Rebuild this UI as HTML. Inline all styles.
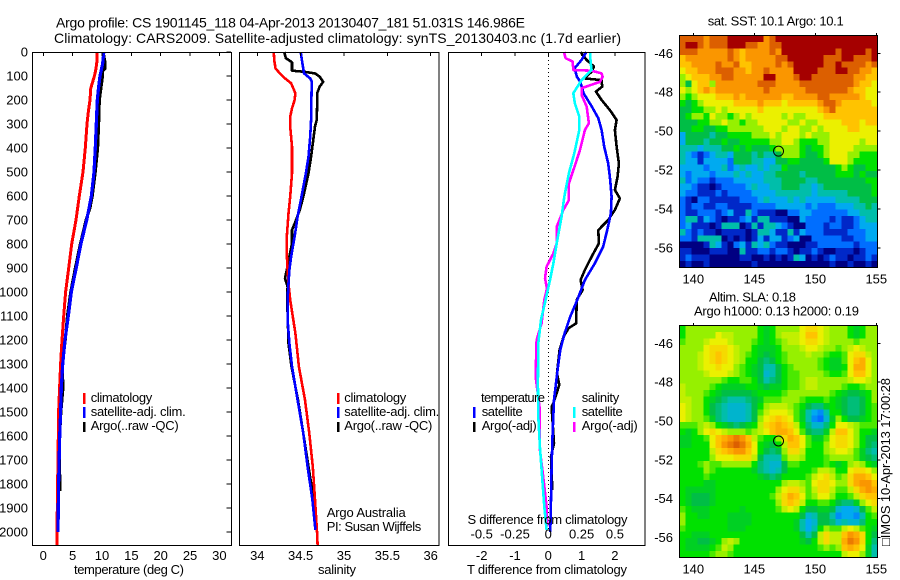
<!DOCTYPE html>
<html lang="en">
<head>
<meta charset="utf-8">
<title>Argo profile chart</title>
<style>
html,body{margin:0;padding:0;background:#fff;}
svg{display:block;}
text{font-family:"Liberation Sans",sans-serif;font-size:13px;fill:#000;}
.title{font-size:14px;}
</style>
</head>
<body>
<svg id="chart" xmlns="http://www.w3.org/2000/svg" width="900" height="580" viewBox="0 0 900 580">
  <rect x="0" y="0" width="900" height="580" fill="#fff"/>
  <g id="plots"></g>

  <text class="title" x="56" y="27.5" textLength="469">Argo profile: CS 1901145_118 04-Apr-2013 20130407_181 51.031S 146.986E</text>
  <text class="title" x="54" y="43" textLength="567">Climatology: CARS2009. Satellite-adjusted climatology: synTS_20130403.nc (1.7d earlier)</text>

  <text x="74" y="574" textLength="110">temperature (deg C)</text>
  <text x="318" y="574" textLength="38">salinity</text>
  <text x="467" y="574" textLength="160">T difference from climatology</text>
  <text x="467.5" y="524" textLength="160">S difference from climatology</text>

  <g>
    <rect x="83" y="393" width="2.5" height="11" fill="#ff0000"/>
    <rect x="83" y="407" width="2.5" height="11" fill="#0000ff"/>
    <rect x="83" y="422" width="2.5" height="10" fill="#000"/>
    <text x="90.7" y="402" textLength="61.5">climatology</text>
    <text x="90.7" y="416" textLength="95">satellite-adj. clim.</text>
    <text x="90.7" y="430" textLength="88">Argo(..raw -QC)</text>
  </g>
  <g>
    <rect x="337" y="393" width="2.5" height="11" fill="#ff0000"/>
    <rect x="337" y="407" width="2.5" height="11" fill="#0000ff"/>
    <rect x="337" y="422" width="2.5" height="10" fill="#000"/>
    <text x="344.3" y="402" textLength="62">climatology</text>
    <text x="344.3" y="416" textLength="95">satellite-adj. clim.</text>
    <text x="344.3" y="430" textLength="88">Argo(..raw -QC)</text>
    <text x="326.7" y="517" textLength="79">Argo Australia</text>
    <text x="326.7" y="531" textLength="94.5">PI: Susan Wijffels</text>
  </g>
  <g>
    <text x="481" y="402" textLength="64">temperature</text>
    <rect x="473" y="407" width="2.5" height="11" fill="#0000ff"/>
    <text x="481.7" y="416" textLength="41">satellite</text>
    <rect x="473" y="422" width="2.5" height="10" fill="#000"/>
    <text x="481.7" y="430" textLength="55">Argo(-adj)</text>
    <text x="581.7" y="402" textLength="37.5">salinity</text>
    <rect x="573" y="407" width="2.5" height="11" fill="#00ffff"/>
    <text x="581.7" y="416" textLength="41">satellite</text>
    <rect x="573" y="422" width="2.5" height="10" fill="#ff00ff"/>
    <text x="581.7" y="430" textLength="56">Argo(-adj)</text>
  </g>

  <text x="707.7" y="25.7" textLength="136">sat. SST: 10.1 Argo: 10.1</text>
  <text x="709" y="301.7" textLength="87">Altim. SLA: 0.18</text>
  <text x="694" y="315.7" textLength="165">Argo h1000: 0.13 h2000: 0.19</text>
  <text transform="translate(890,546) rotate(-90)" x="0" y="0" textLength="168">□IMOS 10-Apr-2013 17:00:28</text>
</svg>

<script>
// Shared depth ticks (dbar)
const depthTicks = [0,100,200,300,400,500,600,700,800,900,1000,1100,1200,1300,1400,1500,1600,1700,1800,1900,2000];

// Temperature panel
const tempTicks = [0,5,10,15,20,25,30];
const tempClimDepth = [0,50,80,100,130,150,200,250,300,400,500,600,700,800,900,1000,1100,1200,1300,1400,1500,1700,1800,2000,2054];
const tempClim = [9.2,9.1,8.9,8.7,8.35,8.1,7.95,7.67,7.44,7.16,6.76,6.14,5.57,4.83,4.32,3.8,3.47,3.18,2.95,2.78,2.6,2.5,2.44,2.33,2.33];
const tempSatDepth = [0,50,100,150,200,300,400,500,600,700,800,900,1000,1100,1200,1300,1400,1500,1600,1800,2000];
const tempSat = [10.3,10.1,9.66,9.4,9.2,9.03,8.86,8.64,8.2,7.4,6.4,5.6,4.77,4.26,3.7,3.3,3.07,2.95,2.8,2.6,2.5];
const tempArgoDepth = [0,40,70,80,100,150,200,300,400,500,600,650,700,750,800,900,1000,1100,1200,1300,1400,1500,1600,1700,1800,1830];
const tempArgo = [10.2,10.5,10.5,10.1,10.1,9.83,9.55,9.43,9.26,8.86,8.35,7.95,7.27,6.8,6.3,5.45,4.66,4.1,3.75,3.24,3.35,3,2.8,2.75,2.84,2.84];

// Salinity panel
const salTicks = [34,34.5,35,35.5,36];
const salClimDepth = [0,33,68,89,110,130,172,200,235,270,311,394,505,603,672,770,839,880,964,1033,1172,1311,1450,1589,1728,1866,2005,2054];
const salClim = [34.19,34.195,34.21,34.26,34.32,34.39,34.44,34.43,34.4,34.38,34.38,34.4,34.4,34.38,34.36,34.34,34.34,34.345,34.36,34.38,34.44,34.48,34.55,34.6,34.64,34.665,34.69,34.695];
const salSatDepth = [0,47,89,110,124,172,283,353,436,505,603,686,770,853,908,964,1033,1116,1214,1311,1450,1589,1728,1866,1991];
const salSat = [34.5,34.52,34.54,34.61,34.63,34.625,34.62,34.61,34.59,34.56,34.51,34.465,34.43,34.39,34.37,34.36,34.35,34.35,34.37,34.4,34.465,34.53,34.58,34.635,34.67];
const salArgoDepth = [0,26,43,78,82,89,103,124,144,172,228,283,311,381,436,505,603,658,707,742,797,853,908,943,978,1033,1214,1311,1450,1589,1728,1866,1950];
const salArgo = [34.31,34.33,34.4,34.4,34.53,34.665,34.72,34.76,34.72,34.69,34.69,34.685,34.665,34.64,34.62,34.59,34.53,34.49,34.44,34.4,34.4,34.37,34.34,34.32,34.35,34.345,34.36,34.395,34.47,34.53,34.59,34.65,34.675];

// Difference panel
const tDiffTicks = [-2,-1,0,1,2];
const sDiffTicks = [-0.5,-0.25,0,0.25,0.5];
const sDiffTickLabels = ['-0.5','-0.25','0','0.25','0.5'];
const tDiffSatDepth = [0,33,68,103,124,172,228,276,325,394,464,533,603,672,742,811,880,950,1033,1102,1172,1241,1311,1380,1450,1589,1728,1866,2000];
const tDiffSat = [1.14,1,0.79,0.86,0.96,1.06,1.31,1.5,1.6,1.68,1.8,1.86,1.9,1.88,1.77,1.65,1.4,1.1,0.87,0.66,0.49,0.36,0.29,0.23,0.17,0.13,0.1,0.08,0.06];
const tDiffArgoDepth = [0,33,61,82,110,117,144,165,200,242,283,325,394,464,519,575,610,658,700,742,797,853,908,950,992,1033,1130,1151,1186,1241,1338,1387,1464,1478,1630,1686,1825];
const tDiffArgo = [0.97,1.15,1.37,1.3,1.08,1.6,1.62,1.43,1.6,1.85,2.05,2,2.05,2.12,2.08,2,2.15,2,1.8,1.5,1.52,1.3,1.1,0.97,1.03,0.85,0.84,0.61,0.46,0.34,0.26,0.33,0.15,0.1,0.17,0.08,0.12];
const sDiffSatDepth = [0,47,75,117,172,214,269,325,422,505,603,686,797,880,950,1033,1116,1214,1380,1519,1644,1797,1894,1991];
const sDiffSat = [0.313,0.318,0.325,0.25,0.188,0.2,0.233,0.233,0.195,0.155,0.12,0.1,0.063,0.038,0.013,-0.02,-0.055,-0.075,-0.078,-0.075,-0.063,-0.043,-0.03,-0.013];
const sDiffArgoDepth = [0,26,40,75,78,89,103,124,151,179,228,297,325,408,464,547,617,658,728,797,839,894,943,985,1033,1130,1200,1352,1491,1658,1769,1894,1977];
const sDiffArgo = [0.118,0.13,0.183,0.188,0.325,0.4,0.408,0.388,0.25,0.25,0.288,0.305,0.275,0.238,0.205,0.155,0.155,0.113,0.063,0.063,0.038,-0.013,-0.025,-0.01,-0.03,-0.05,-0.088,-0.095,-0.063,-0.063,-0.038,-0.013,-0.008];

// Map axes
const lonTicks = [140,145,150,155];
const latTicksTop = [-46,-48,-50,-52,-54,-56];
const argoLon = 146.986;
const argoLat = -51.031;

// Colour levels of the SST map, read row by row (north to south)
const sstRows = [
[11,11,11,11,10,11,11,11,12,12,12,12,12,12,10,11,12,12,12,12,12,12,12,12,12,12,12,12,12,12,12,12,12],
[11,12,12,11,10,11,11,11,12,12,12,11,11,10,10,11,11,12,12,12,12,12,12,12,12,12,12,12,12,12,12,12,12],
[11,11,11,10,10,10,10,10,11,10,9,10,10,10,10,11,10,12,12,12,12,12,12,12,12,12,11,12,12,12,12,11,12],
[9,10,10,10,10,10,10,10,11,10,9,10,10,10,10,10,11,11,12,12,12,12,12,12,11,11,11,12,12,11,11,11,12],
[9,9,10,10,10,10,11,10,10,11,9,9,10,10,10,10,11,10,11,12,12,12,12,12,11,11,12,11,11,11,11,10,11],
[8,9,9,10,10,10,11,11,11,10,10,9,10,10,11,10,10,10,10,12,12,12,12,11,11,11,12,12,11,11,10,10,9],
[7,8,9,9,9,10,10,11,11,10,10,10,10,10,12,12,10,10,10,11,12,12,11,11,11,11,11,11,11,10,10,9,9],
[7,5,8,9,9,7,10,10,10,10,10,10,10,11,11,11,10,10,10,10,11,11,11,11,11,11,11,11,11,10,9,9,8],
[8,7,8,9,10,9,10,10,10,10,10,10,10,10,11,10,10,10,10,10,10,11,11,11,11,11,11,11,10,9,9,8,8],
[7,6,7,8,8,8,9,9,9,10,9,10,10,10,10,10,10,9,9,10,10,10,10,11,11,10,10,10,10,10,9,8,8],
[6,5,6,7,8,8,8,8,8,9,9,9,9,10,9,9,9,8,9,9,9,9,9,10,11,11,10,9,9,9,9,9,8],
[5,5,6,6,7,7,8,7,8,8,8,8,8,9,8,8,8,8,8,8,8,8,8,9,10,11,9,9,9,9,9,9,9],
[5,6,7,7,6,8,7,7,6,7,8,7,8,8,8,8,8,7,8,7,7,8,8,8,9,9,9,9,9,9,9,9,9],
[5,5,5,6,6,7,7,8,7,7,6,7,7,8,8,8,8,8,7,7,8,7,7,8,8,8,8,9,9,9,8,9,9],
[5,5,6,6,5,5,6,6,7,7,7,7,7,7,8,8,8,7,8,8,7,7,8,7,8,8,8,8,9,9,8,8,8],
[3,5,5,5,5,4,5,5,6,6,6,6,7,7,7,8,7,8,8,8,7,8,7,7,7,8,8,8,8,8,8,8,8],
[3,5,5,5,4,5,5,6,5,5,6,6,6,6,6,7,7,8,8,7,6,6,6,7,7,8,8,8,8,8,7,8,8],
[4,4,4,3,4,4,4,5,5,6,5,6,5,5,5,6,7,7,7,7,6,5,6,6,7,8,8,8,8,7,7,7,7],
[4,3,2,1,2,3,4,4,3,5,5,5,4,5,4,4,5,7,7,7,6,5,5,6,7,8,8,8,7,7,6,6,6],
[4,3,3,1,3,3,3,3,2,5,5,5,4,4,3,3,5,5,6,6,5,5,5,5,6,8,8,8,7,6,6,6,6],
[3,3,3,3,2,3,3,4,2,3,4,3,3,4,3,4,4,6,5,5,5,5,5,5,5,5,6,7,6,5,5,6,6],
[3,2,3,3,3,2,3,3,3,4,3,4,3,3,4,4,5,5,5,5,4,5,5,5,5,5,6,6,6,5,6,5,5],
[4,2,3,2,2,1,2,2,2,3,3,3,3,3,4,4,4,5,5,5,5,4,4,5,5,5,5,5,5,5,5,6,6],
[3,3,2,1,1,0,1,2,2,2,2,3,4,3,3,4,4,5,5,5,4,4,3,4,5,5,5,5,5,5,5,5,6],
[3,2,2,1,1,1,2,1,2,2,2,2,3,3,3,3,4,4,4,4,4,4,3,4,4,4,4,4,5,5,5,5,6],
[2,1,0,2,2,1,1,1,1,1,2,2,2,3,4,3,3,3,4,3,4,3,3,3,3,3,4,4,4,4,5,5,5],
[2,1,2,2,1,1,2,2,1,1,1,1,2,2,2,2,3,3,3,3,3,2,3,2,2,2,3,3,3,4,4,5,4],
[2,1,1,2,2,2,1,2,3,1,1,4,2,1,1,1,0,0,2,2,3,3,2,2,2,2,2,2,3,3,4,4,4],
[2,4,4,1,3,2,1,0,1,1,2,3,1,4,4,1,1,1,0,0,3,2,2,2,2,1,2,1,1,2,3,4,4],
[2,3,1,1,1,0,1,4,4,4,0,1,4,1,4,4,3,2,1,0,0,2,2,2,1,2,2,1,1,2,3,3,3],
[4,2,1,2,1,1,0,1,1,1,1,0,1,4,4,3,1,1,4,1,3,2,2,2,1,1,1,1,2,2,2,3,3],
[2,2,1,4,4,4,4,0,1,0,1,0,1,3,1,3,3,1,2,3,0,0,2,2,2,2,2,1,1,2,2,3,3],
[0,0,0,0,1,4,3,1,0,2,3,1,4,3,4,2,1,1,0,0,0,1,1,2,2,2,2,2,2,1,2,2,2],
[1,1,0,0,0,1,1,1,0,0,4,1,1,2,2,1,2,2,1,0,1,1,2,1,0,0,1,1,1,0,1,2,2],
[1,2,1,1,1,0,0,0,0,0,1,1,0,0,1,0,1,0,1,4,3,0,1,0,1,2,1,1,0,1,1,2,1],
[0,1,0,0,1,0,0,0,0,0,0,0,1,0,0,0,0,0,0,0,0,0,0,0,0,1,0,0,1,0,0,1,0]
];

// Colour levels of the altimetry SLA map, read row by row (north to south)
const slaRows = [
[6,7,7,7,7,7,7,7,7,7,7,7,7,6,5.5,6,7,7,7,7,8,8.5,8.5,8,7.5,7,7,7,6,5.5,6,7,7],
[6,7,7,7,7,7,8,7.5,7.5,7,7,7,7,6,5.5,6,7,7.5,7.5,7.5,8,9,9,8,7.5,7,7,7,6,5.5,6,7,7],
[6.5,7,7,7,7.5,8,8,8,7.5,7,7,7,6.5,6,5.5,6,6.5,7,7.5,7.5,8,8.5,8.5,8,7.5,7,7,7,7,6.5,7,7,7],
[7,7,7,7,8,8.5,8.5,8.5,8,7.5,7,7,6,5.5,5.5,5.5,6,7,7,7,7.5,8,8,7.5,7,7,6.5,7,7.5,8,7.5,7,7],
[7,7,7,7.5,8,8.5,9,8.5,8,7.5,7,6.5,6,5.5,5,5.5,6,6.5,7,7,7,7.5,7,7,6.5,6,6,6.5,8,8.5,8.5,7.5,7],
[7,7,7,7.5,8,8.5,9,8.5,8,7.5,7,6,6,5,4.5,5,6,6.5,7,7,7,7,7,6.5,6,5.5,5.5,6.5,8,9,9.5,8,7],
[7,7,7,7.5,8,8,8.5,8,8,7,6.5,6,5.5,5,4,4,5,6,6.5,7,7,7,7,6.5,6,5.5,5.5,6,8,9.5,9.5,8,7],
[7,7,7,7,7.5,8,8,8,7.5,7,6.5,6,5.5,5,3.5,4,5,6,6.5,6.5,7,7,7,7,6.5,6,6,6.5,8,9,9,8,7],
[7,7,7,7,7,7,7,6.5,6,6,6.5,6.5,6,5,4,4.5,5,6,6.5,6.5,7,7.5,7.5,7,7,7,7,7,7.5,8,8,7.5,7],
[7.5,7,7,7,7,6.5,6,5.5,5.5,5.5,5.5,6,6,5.5,5,5.5,5.5,6,6.5,6.5,7,7.5,7.5,7,7,7,7,6.5,6,6,6.5,7,7],
[7.5,7,7,7,6.5,6,5.5,5,5,5,5,5,5.5,6,6,6,6,6.5,7,7,7,7,7,7,7,6.5,6,5.5,5,5,5.5,6,7],
[7.5,7.5,7,7,6,5.5,5,4.5,4,4,4,4.5,5,5.5,6.5,6.5,6.5,7,7,7,6.5,6,6,6,6.5,6,5.5,5,4.5,4.5,5,6,7],
[8,7.5,7,7,6,5,4.5,4,3.5,3.5,3.5,4,5,6,7,7.5,7.5,7.5,7,6.5,6,5,4.5,4.5,5.5,6,5.5,5,4.5,4.5,5,6,6.5],
[8,7.5,7,7,6,5,4.5,4,3.5,3.5,3.5,4,5,6.5,7.5,8,8,8,7.5,6.5,5.5,4,3,2.5,4,6,6,5,4.5,4.5,5,6,6.5],
[8,7.5,7,7,6.5,5.5,4.5,4,3.5,3.5,3.5,4,5,7,8,8.5,9,8.5,8,6.5,5.5,4,2.5,2,3.5,5.5,7,6,5,5,5.5,6,6.5],
[6.5,6.5,6.5,7,7.5,7,6,5.5,5,4.5,5,5.5,6,7.5,8.5,9,9.5,9,8.5,7.5,6,4.5,3.5,3.5,4.5,6,8,8,7.5,7,6.5,6.5,6.5],
[6,5.5,6,7,8,8.5,8,7.5,7,7,7,6.5,7,7.5,8,9,9.5,9.5,9,8,6.5,5,4.5,4.5,5.5,7.5,9,9,8,7,6,6,5.5],
[5.5,5.5,6,6,6.5,8,9,9.5,10,10.5,10,9,7.5,6.5,6,6,7,8.5,9.5,9,8,6.5,5.5,5.5,6.5,8,8.5,8.5,8,7,6,5,5],
[5.5,5.5,6,6,6,8,9,10,10.5,11,10.5,9.5,8,6,5.5,5,6,7.5,9,9,8,6.5,6,6,7,8,8.5,8.5,8,7,6,5,4.5],
[6,6,6,6,6,7.5,8.5,9,9.5,10,10,9,8,6,5,4.5,5,7,8.5,8.5,7.5,6,6,6,7,7.5,8,8,7.5,6.5,5.5,4.5,4],
[6,6,6,6,6,7,8,8,8,8.5,8.5,8.5,7.5,5,4,4,4,6.5,7.5,7.5,7,6,6,6,6.5,7,7,7,7,6.5,5.5,5,4.5],
[6,6,6,6.5,7,6.5,6.5,7,7,7,7,7,6,4.5,4,3.5,3.5,5,6.5,6.5,6,6,6,6,6.5,6,5.5,6,7,7.5,7,6,5.5],
[6,6,6,6,7,6.5,6,6,6,6,6,6,5.5,4.5,4,3.5,4,5,6,6,6,6,6.5,7.5,7.5,7,6,6,8,8.5,8.5,8,7],
[6,6,6,6,6.5,6,6,6,6,6,6,6,6,5.5,5,4.5,5,6,6,6,6,6.5,7.5,8,8.5,7.5,6.5,7,8.5,9.5,9.5,9,8],
[6,6,6,6,5.5,5.5,6,6,6,6,6,6,6,6,6,6,6,7,7.5,7.5,7,6.5,8,8.5,8.5,8,7,7,8.5,9.5,10,10,9],
[6,5.5,5.5,5.5,5.5,5.5,6,6,6,6,6,6,6,6,6,6,7,8,8.5,8.5,7.5,6.5,7.5,8.5,8.5,7.5,6.5,6.5,7.5,8.5,9.5,10,9.5],
[6,5.5,5,5,5,5.5,6,6,6,6,6,6,6,6,6,6.5,7.5,8.5,9.5,9,8,6.5,7,8,8,7,6,6,6.5,7.5,8.5,9,9],
[6,5.5,5,5,5,5.5,6,6,6,6,6,6,6,6,6,6,7,8.5,9,8.5,7.5,6,6,6.5,6.5,6,5,4.5,4.5,5.5,7,8,8.5],
[6.5,6,5.5,5.5,5.5,6,6,6,6,6,5.5,6,6,6,6,6,6.5,7.5,8,7.5,6,5,5,5.5,5.5,5,3.5,3,3,3.5,5,6.5,7.5],
[7,6,6,5.5,5.5,6,6,6,5.5,5.5,5.5,5.5,6,6,6,6,6,6,6,6,5,3.5,4,5,5,4,2.5,3,3,2.5,4,6,6.5],
[7,6,6,6,6,6,6,6,5.5,5.5,5.5,5.5,6,6,6,6,6,6,6,5.5,4,3,3.5,5,5,4.5,3.5,4,3.5,3.5,4.5,6,6],
[6.5,6,6,6,6,6,6,6,5.5,5.5,5.5,6,6,6,6,6,6,6,6,5.5,4,3,4,6,7,6.5,6.5,7.5,8,7.5,6.5,6,5.5],
[6,6,5.5,5.5,5.5,6,6,6,6,6,6,6,6,6,6,6,6,6,6,6,5,4,5,7.5,8.5,7.5,7.5,9,10,9.5,8.5,6,5],
[6,5.5,5.5,5,5,5.5,6,7,7.5,7,6,6,6,6,6,6,6,6,6,6,5.5,5,6,7.5,8.5,7.5,7.5,9.5,10.5,10,8.5,6,4.5],
[6,5.5,5.5,5.5,5.5,6,6.5,7.5,7,6,6,6,6,6,6,6,6,6,6,6,6,6,6,6.5,7,6.5,7,9,9.5,9,8,5.5,4],
[6,6,6,6,6,6.5,7,7,6.5,6,6,6,6,6,6,6,6,6,6,6,6,6,6,6,6,6,6,7.5,8,8,7,5.5,4]
];

// Colour scale stops used by both maps (index = level)
const levelColors = [[0,0,130],[0,40,200],[0,110,255],[0,170,240],[0,190,170],[0,190,70],[0,225,0],[150,240,0],[235,240,0],[255,195,0],[250,150,0],[220,95,0],[165,0,0]];

const plots = document.getElementById('plots');
const SVGNS = 'http://www.w3.org/2000/svg';
const depthTop = 52, depthPx = 0.24;
const yDepth = d => depthTop + d * depthPx;
const xTemp = v => 43.3 + v * 5.87;
const xSal = v => 257.3 + (v - 34) * 86.7;
const xTDiff = v => 548.3 + v * 33.3;
const xSDiff = v => 548.3 + v * 133.2;
const xLon = v => 693.3 + (v - 140) * 12.2;
const ySst = v => 53.3 + (-46 - v) * 19.45;
const ySla = v => 343.3 + (-46 - v) * 19.42;

function addFrame(name, x, y, w, h) {
  const el = document.createElementNS(SVGNS, 'rect');
  
  
  el.setAttribute('x', x);
  el.setAttribute('y', y);
  el.setAttribute('width', w);
  el.setAttribute('height', h);
  el.setAttribute('fill', 'none');
  el.setAttribute('stroke', '#000');
  el.setAttribute('stroke-width', '1');
  el.setAttribute('shape-rendering', 'crispEdges');
  plots.appendChild(el);
}
function addTick(name, x1, y1, x2, y2) {
  const el = document.createElementNS(SVGNS, 'line');
  
  
  el.setAttribute('x1', x1);
  el.setAttribute('y1', y1);
  el.setAttribute('x2', x2);
  el.setAttribute('y2', y2);
  el.setAttribute('stroke', '#000');
  el.setAttribute('shape-rendering', 'crispEdges');
  plots.appendChild(el);
}
function addLabel(name, x, y, str, anchor) {
  const el = document.createElementNS(SVGNS, 'text');
  
  
  el.setAttribute('x', x);
  el.setAttribute('y', y);
  el.setAttribute('text-anchor', anchor);
  el.textContent = str;
  plots.appendChild(el);
}
function addProfile(name, xs, ds, xScale, color, width) {
  const el = document.createElementNS(SVGNS, 'polyline');
  
  
  el.setAttribute('points', xs.map((v, i) => xScale(v).toFixed(1) + ',' + yDepth(ds[i]).toFixed(1)).join(' '));
  el.setAttribute('fill', 'none');
  el.setAttribute('stroke', color);
  el.setAttribute('stroke-width', width);
  el.setAttribute('stroke-linejoin', 'round');
  el.setAttribute('shape-rendering', 'crispEdges');
  plots.appendChild(el);
}
function levelColor(v) {
  const i = Math.max(0, Math.min(levelColors.length - 2, Math.floor(v)));
  const f = Math.max(0, Math.min(1, v - i));
  const a = levelColors[i], b = levelColors[i + 1];
  return 'rgb(' + a.map((c, k) => Math.round(c + (b[k] - c) * f)).join(',') + ')';
}
function addMap(prefix, rows, left, top, yLat, w, h) {
  const cw = w / rows[0].length, ch = h / rows.length;
  rows.forEach((row, r) => row.forEach((v, c) => {
    const el = document.createElementNS(SVGNS, 'rect');
    
    
    el.setAttribute('x', (left + c * cw).toFixed(2));
    el.setAttribute('y', (top + r * ch).toFixed(2));
    el.setAttribute('width', (cw + 0.3).toFixed(2));
    el.setAttribute('height', (ch + 0.3).toFixed(2));
    el.setAttribute('fill', levelColor(v));
    el.setAttribute('shape-rendering', 'crispEdges');
    plots.appendChild(el);
  }));
  addFrame(prefix + '-frame', left, top, w, h);
  lonTicks.forEach(v => {
    addTick(prefix + '-lon-tick', xLon(v), top - 2.5, xLon(v), top);
    addLabel(prefix + '-lon-label', xLon(v), top + h + 16, String(v), 'middle');
  });
  latTicksTop.forEach(v => {
    addTick(prefix + '-lat-tick', left + w, yLat(v), left + w + 3, yLat(v));
    addLabel(prefix + '-lat-label', 673, yLat(v) + 4.5, String(v), 'end');
  });
  const circle = document.createElementNS(SVGNS, 'circle');
  
  
  circle.setAttribute('cx', xLon(argoLon));
  circle.setAttribute('cy', yLat(argoLat));
  circle.setAttribute('r', 5);
  circle.setAttribute('fill', 'none');
  circle.setAttribute('stroke', '#000');
  circle.setAttribute('stroke-width', '1');
  plots.appendChild(circle);
}

// Temperature panel
addProfile('temperature-argo-line', tempArgo, tempArgoDepth, xTemp, '#000', 3);
addProfile('temperature-climatology-line', tempClim, tempClimDepth, xTemp, '#ff0000', 3);
addProfile('temperature-satellite-line', tempSat, tempSatDepth, xTemp, '#0000ff', 3.2);
addFrame('temperature-frame', 32.5, 52.5, 199, 493);
tempTicks.forEach(v => {
  addTick('temperature-x-tick', xTemp(v), 52, xTemp(v), 56);
  addLabel('temperature-x-label', xTemp(v), 560, String(v), 'middle');
});
depthTicks.forEach(d => {
  addTick('depth-tick', 226.5, yDepth(d), 231, yDepth(d));
  addLabel('depth-label', 28, yDepth(d) + 4.5, String(d), 'end');
});

// Salinity panel
addProfile('salinity-argo-line', salArgo, salArgoDepth, xSal, '#000', 2.6);
addProfile('salinity-climatology-line', salClim, salClimDepth, xSal, '#ff0000', 2.6);
addProfile('salinity-satellite-line', salSat, salSatDepth, xSal, '#0000ff', 2.6);
addFrame('salinity-frame', 239.5, 52.5, 199.5, 493);
salTicks.forEach(v => {
  addTick('salinity-x-tick', xSal(v), 52, xSal(v), 56);
  addLabel('salinity-x-label', xSal(v), 560, String(v), 'middle');
});

// Difference panel
const zeroLine = document.createElementNS(SVGNS, 'line');


zeroLine.setAttribute('x1', xTDiff(0));
zeroLine.setAttribute('x2', xTDiff(0));
zeroLine.setAttribute('y1', 52);
zeroLine.setAttribute('y2', 530);
zeroLine.setAttribute('stroke', '#000');
zeroLine.setAttribute('stroke-dasharray', '1 3');
zeroLine.setAttribute('shape-rendering', 'crispEdges');
plots.appendChild(zeroLine);
addProfile('t-difference-argo-line', tDiffArgo, tDiffArgoDepth, xTDiff, '#000', 2.6);
addProfile('t-difference-satellite-line', tDiffSat, tDiffSatDepth, xTDiff, '#0000ff', 2.6);
addProfile('s-difference-argo-line', sDiffArgo, sDiffArgoDepth, xSDiff, '#ff00ff', 2.6);
addProfile('s-difference-satellite-line', sDiffSat, sDiffSatDepth, xSDiff, '#00ffff', 2.6);
addFrame('difference-frame', 448.5, 52.5, 196.5, 493);
tDiffTicks.forEach(v => {
  addTick('t-difference-tick', xTDiff(v), 52, xTDiff(v), 56);
  addLabel('t-difference-label', xTDiff(v), 560, String(v), 'middle');
});
sDiffTicks.forEach((v, i) => {
  addLabel('s-difference-label', xSDiff(v), 538.7, sDiffTickLabels[i], 'middle');
});

// Maps
addMap('sst-map', sstRows, 679.5, 35.5, ySst, 198, 232);
addMap('sla-map', slaRows, 679.5, 325.5, ySla, 198, 232);
</script>
</body>
</html>
